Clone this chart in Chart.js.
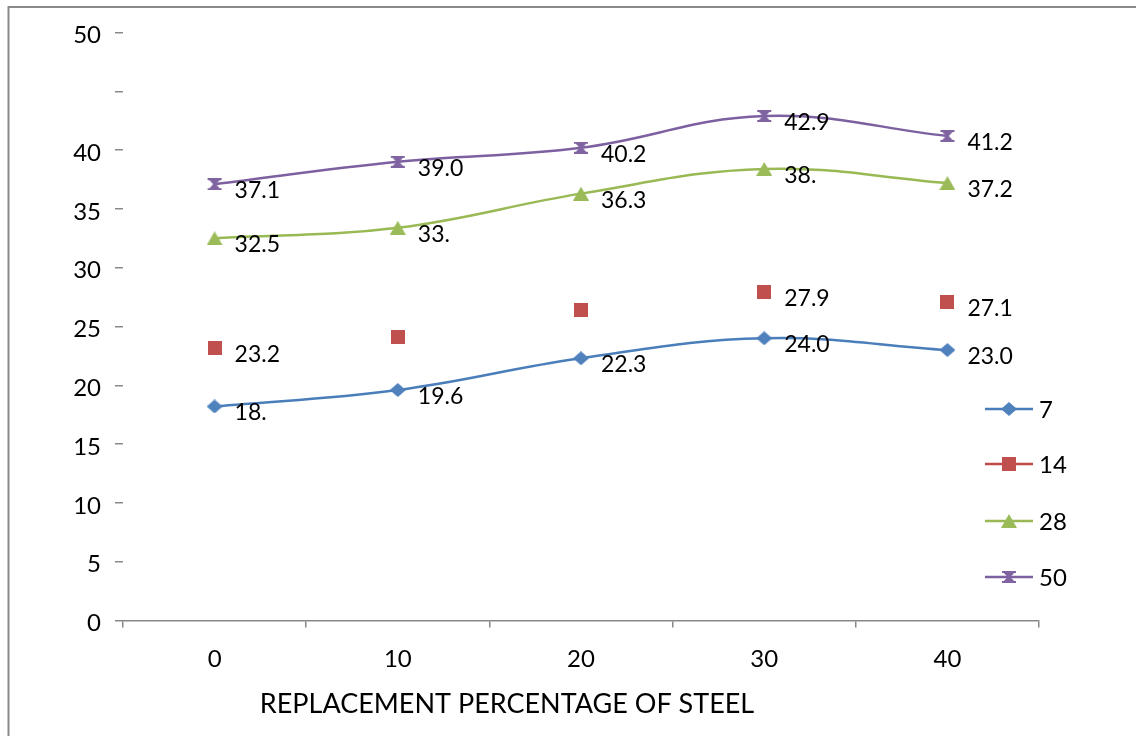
<!DOCTYPE html>
<html>
<head>
<meta charset="utf-8">
<script src="https://cdn.jsdelivr.net/npm/chart.js@4/dist/chart.umd.min.js"></script>
<style>
  html, body { margin: 0; padding: 0; background: #ffffff; }
  canvas { display: block; }
</style>
</head>
<body>
<canvas id="chart" width="1136" height="736"></canvas>
<script>
// Replacement percentage of steel (x categories)
const categories = ['0', '10', '20', '30', '40'];

// Strength per curing age (days)
const seriesNames = ['7', '14', '28', '50'];
const values7  = [18.2, 19.6, 22.3, 24.0, 23.0];
const values14 = [23.2, 24.1, 26.4, 27.9, 27.1];
const values28 = [32.5, 33.4, 36.3, 38.4, 37.2];
const values50 = [37.1, 39.0, 40.2, 42.9, 41.2];

// Value labels printed beside the points (blank = not shown)
const labels7  = ['18.', '19.6', '22.3', '24.0', '23.0'];
const labels14 = ['23.2', '', '', '27.9', '27.1'];
const labels28 = ['32.5', '33.', '36.3', '38.', '37.2'];
const labels50 = ['37.1', '39.0', '40.2', '42.9', '41.2'];

// Y axis ticks; the 45 tick keeps its mark but has no number
const yTickValues = [0, 5, 10, 15, 20, 25, 30, 35, 40, 45, 50];
const yTickLabels = ['0', '5', '10', '15', '20', '25', '30', '35', '40', '', '50'];

const xTitle = 'REPLACEMENT PERCENTAGE OF STEEL';

const FONT = 'Lato, "Open Sans", "DejaVu Sans", sans-serif';
const AXIS_GREY = '#888888';

// ---- marker images ----
function makeMarker(w, h, draw) {
  const c = document.createElement('canvas');
  c.width = w; c.height = h;
  draw(c.getContext('2d'), w, h);
  return c;
}
const diamond = makeMarker(16, 14, (g, w, h) => {
  g.fillStyle = '#4F81BD';
  g.beginPath();
  g.moveTo(w / 2, 0); g.lineTo(w, h / 2); g.lineTo(w / 2, h); g.lineTo(0, h / 2);
  g.closePath(); g.fill();
});
const square = makeMarker(14, 14, (g, w, h) => {
  g.fillStyle = '#C0504D';
  g.fillRect(0, 0, w, h);
});
const triangle = makeMarker(16, 14, (g, w, h) => {
  g.fillStyle = '#9BBB59';
  g.beginPath();
  g.moveTo(w / 2, 0); g.lineTo(w, h); g.lineTo(0, h);
  g.closePath(); g.fill();
});
const hourglass = makeMarker(16, 12, (g, w, h) => {
  g.fillStyle = '#8064A2';
  g.fillRect(1, 0, w - 2, 2);
  g.fillRect(1, h - 2, w - 2, 2);
  g.beginPath();
  g.moveTo(2, 1); g.lineTo(w - 2, 1); g.lineTo(w / 2 + 1.5, h / 2); g.lineTo(w - 2, h - 1);
  g.lineTo(2, h - 1); g.lineTo(w / 2 - 1.5, h / 2);
  g.closePath(); g.fill();
});

const pointLabels = [labels7, labels14, labels28, labels50];

// ---- plugins: frame, value labels, legend, axis title ----
const framePlugin = {
  id: 'frame',
  beforeDraw(chart) {
    const ctx = chart.ctx;
    ctx.save();
    ctx.fillStyle = '#ffffff';
    ctx.fillRect(0, 0, chart.width, chart.height);
    ctx.strokeStyle = '#8a8a8a';
    ctx.lineWidth = 2;
    ctx.strokeRect(8.5, 7, chart.width + 20, chart.height + 20);
    ctx.restore();
  }
};

const valueLabelPlugin = {
  id: 'valueLabels',
  afterDatasetsDraw(chart) {
    const ctx = chart.ctx;
    ctx.save();
    ctx.fillStyle = '#000000';
    ctx.font = '23px ' + FONT;
    ctx.textAlign = 'left';
    ctx.textBaseline = 'alphabetic';
    chart.data.datasets.forEach((ds, i) => {
      const meta = chart.getDatasetMeta(i);
      meta.data.forEach((pt, j) => {
        const txt = pointLabels[i][j];
        if (txt) ctx.fillText(txt, pt.x + 20, pt.y + 14);
      });
    });
    ctx.restore();
  }
};

const legendPlugin = {
  id: 'sideLegend',
  afterDraw(chart) {
    const ctx = chart.ctx;
    const rows = [409, 464, 521, 577];
    const x0 = 985, x1 = 1033, mx = 1009, tx = 1039;
    ctx.save();
    chart.data.datasets.forEach((ds, i) => {
      const y = rows[i];
      ctx.strokeStyle = ds.borderColor;
      ctx.lineWidth = 2.5;
      ctx.beginPath();
      ctx.moveTo(x0, y); ctx.lineTo(x1, y);
      ctx.stroke();
      const img = ds.pointStyle;
      ctx.drawImage(img, Math.round(mx - img.width / 2), Math.round(y - img.height / 2));
      ctx.fillStyle = '#000000';
      ctx.font = '24px ' + FONT;
      ctx.textAlign = 'left';
      ctx.textBaseline = 'middle';
      ctx.fillText(ds.label, tx, y + 1);
    });
    ctx.restore();
  }
};

const axisTitlePlugin = {
  id: 'axisTitle',
  afterDraw(chart) {
    const ctx = chart.ctx;
    ctx.save();
    ctx.fillStyle = '#000000';
    ctx.font = '27px ' + FONT;
    ctx.textAlign = 'center';
    ctx.textBaseline = 'middle';
    ctx.fillText(xTitle, 507, 704);
    ctx.restore();
  }
};

const lineBase = {
  borderWidth: 2.5,
  tension: 0.4,
  pointRadius: 7,
  pointHoverRadius: 7,
  fill: false,
  clip: false
};

new Chart(document.getElementById('chart'), {
  type: 'line',
  data: {
    labels: categories,
    datasets: [
      Object.assign({}, lineBase, { label: seriesNames[0], data: values7,  borderColor: '#4A7EBB', backgroundColor: '#4F81BD', pointStyle: diamond }),
      Object.assign({}, lineBase, { label: seriesNames[1], data: values14, borderColor: '#BE4B48', backgroundColor: '#C0504D', pointStyle: square, showLine: false }),
      Object.assign({}, lineBase, { label: seriesNames[2], data: values28, borderColor: '#98B954', backgroundColor: '#9BBB59', pointStyle: triangle }),
      Object.assign({}, lineBase, { label: seriesNames[3], data: values50, borderColor: '#7D60A0', backgroundColor: '#8064A2', pointStyle: hourglass })
    ]
  },
  options: {
    responsive: false,
    animation: false,
    devicePixelRatio: 1,
    layout: { padding: { left: 0, right: 97, top: 32.5, bottom: 0 } },
    plugins: {
      legend: { display: false },
      tooltip: { enabled: false },
      title: { display: false }
    },
    scales: {
      x: {
        type: 'category',
        offset: true,
        grid: { display: true, drawOnChartArea: false, drawTicks: true, tickLength: 7, offset: true, color: AXIS_GREY, lineWidth: 1.5 },
        border: { display: true, color: AXIS_GREY, width: 1.5 },
        ticks: { color: '#000000', font: { family: FONT, size: 24 }, padding: 17, maxRotation: 0 },
        afterFit(scale) { scale.height = 115.5; }
      },
      y: {
        min: 0,
        max: 50,
        afterBuildTicks(scale) { scale.ticks = yTickValues.map(v => ({ value: v })); },
        grid: { display: true, drawOnChartArea: false, drawTicks: true, tickLength: 8, color: AXIS_GREY, lineWidth: 1.5 },
        border: { display: false },
        ticks: {
          color: '#000000',
          font: { family: FONT, size: 24 },
          padding: 14,
          labelOffset: 3,
          callback(value) {
            const k = yTickValues.indexOf(value);
            return k >= 0 ? yTickLabels[k] : '';
          }
        },
        afterFit(scale) { scale.width = 123; }
      }
    }
  },
  plugins: [framePlugin, valueLabelPlugin, legendPlugin, axisTitlePlugin]
});
</script>
</body>
</html>
